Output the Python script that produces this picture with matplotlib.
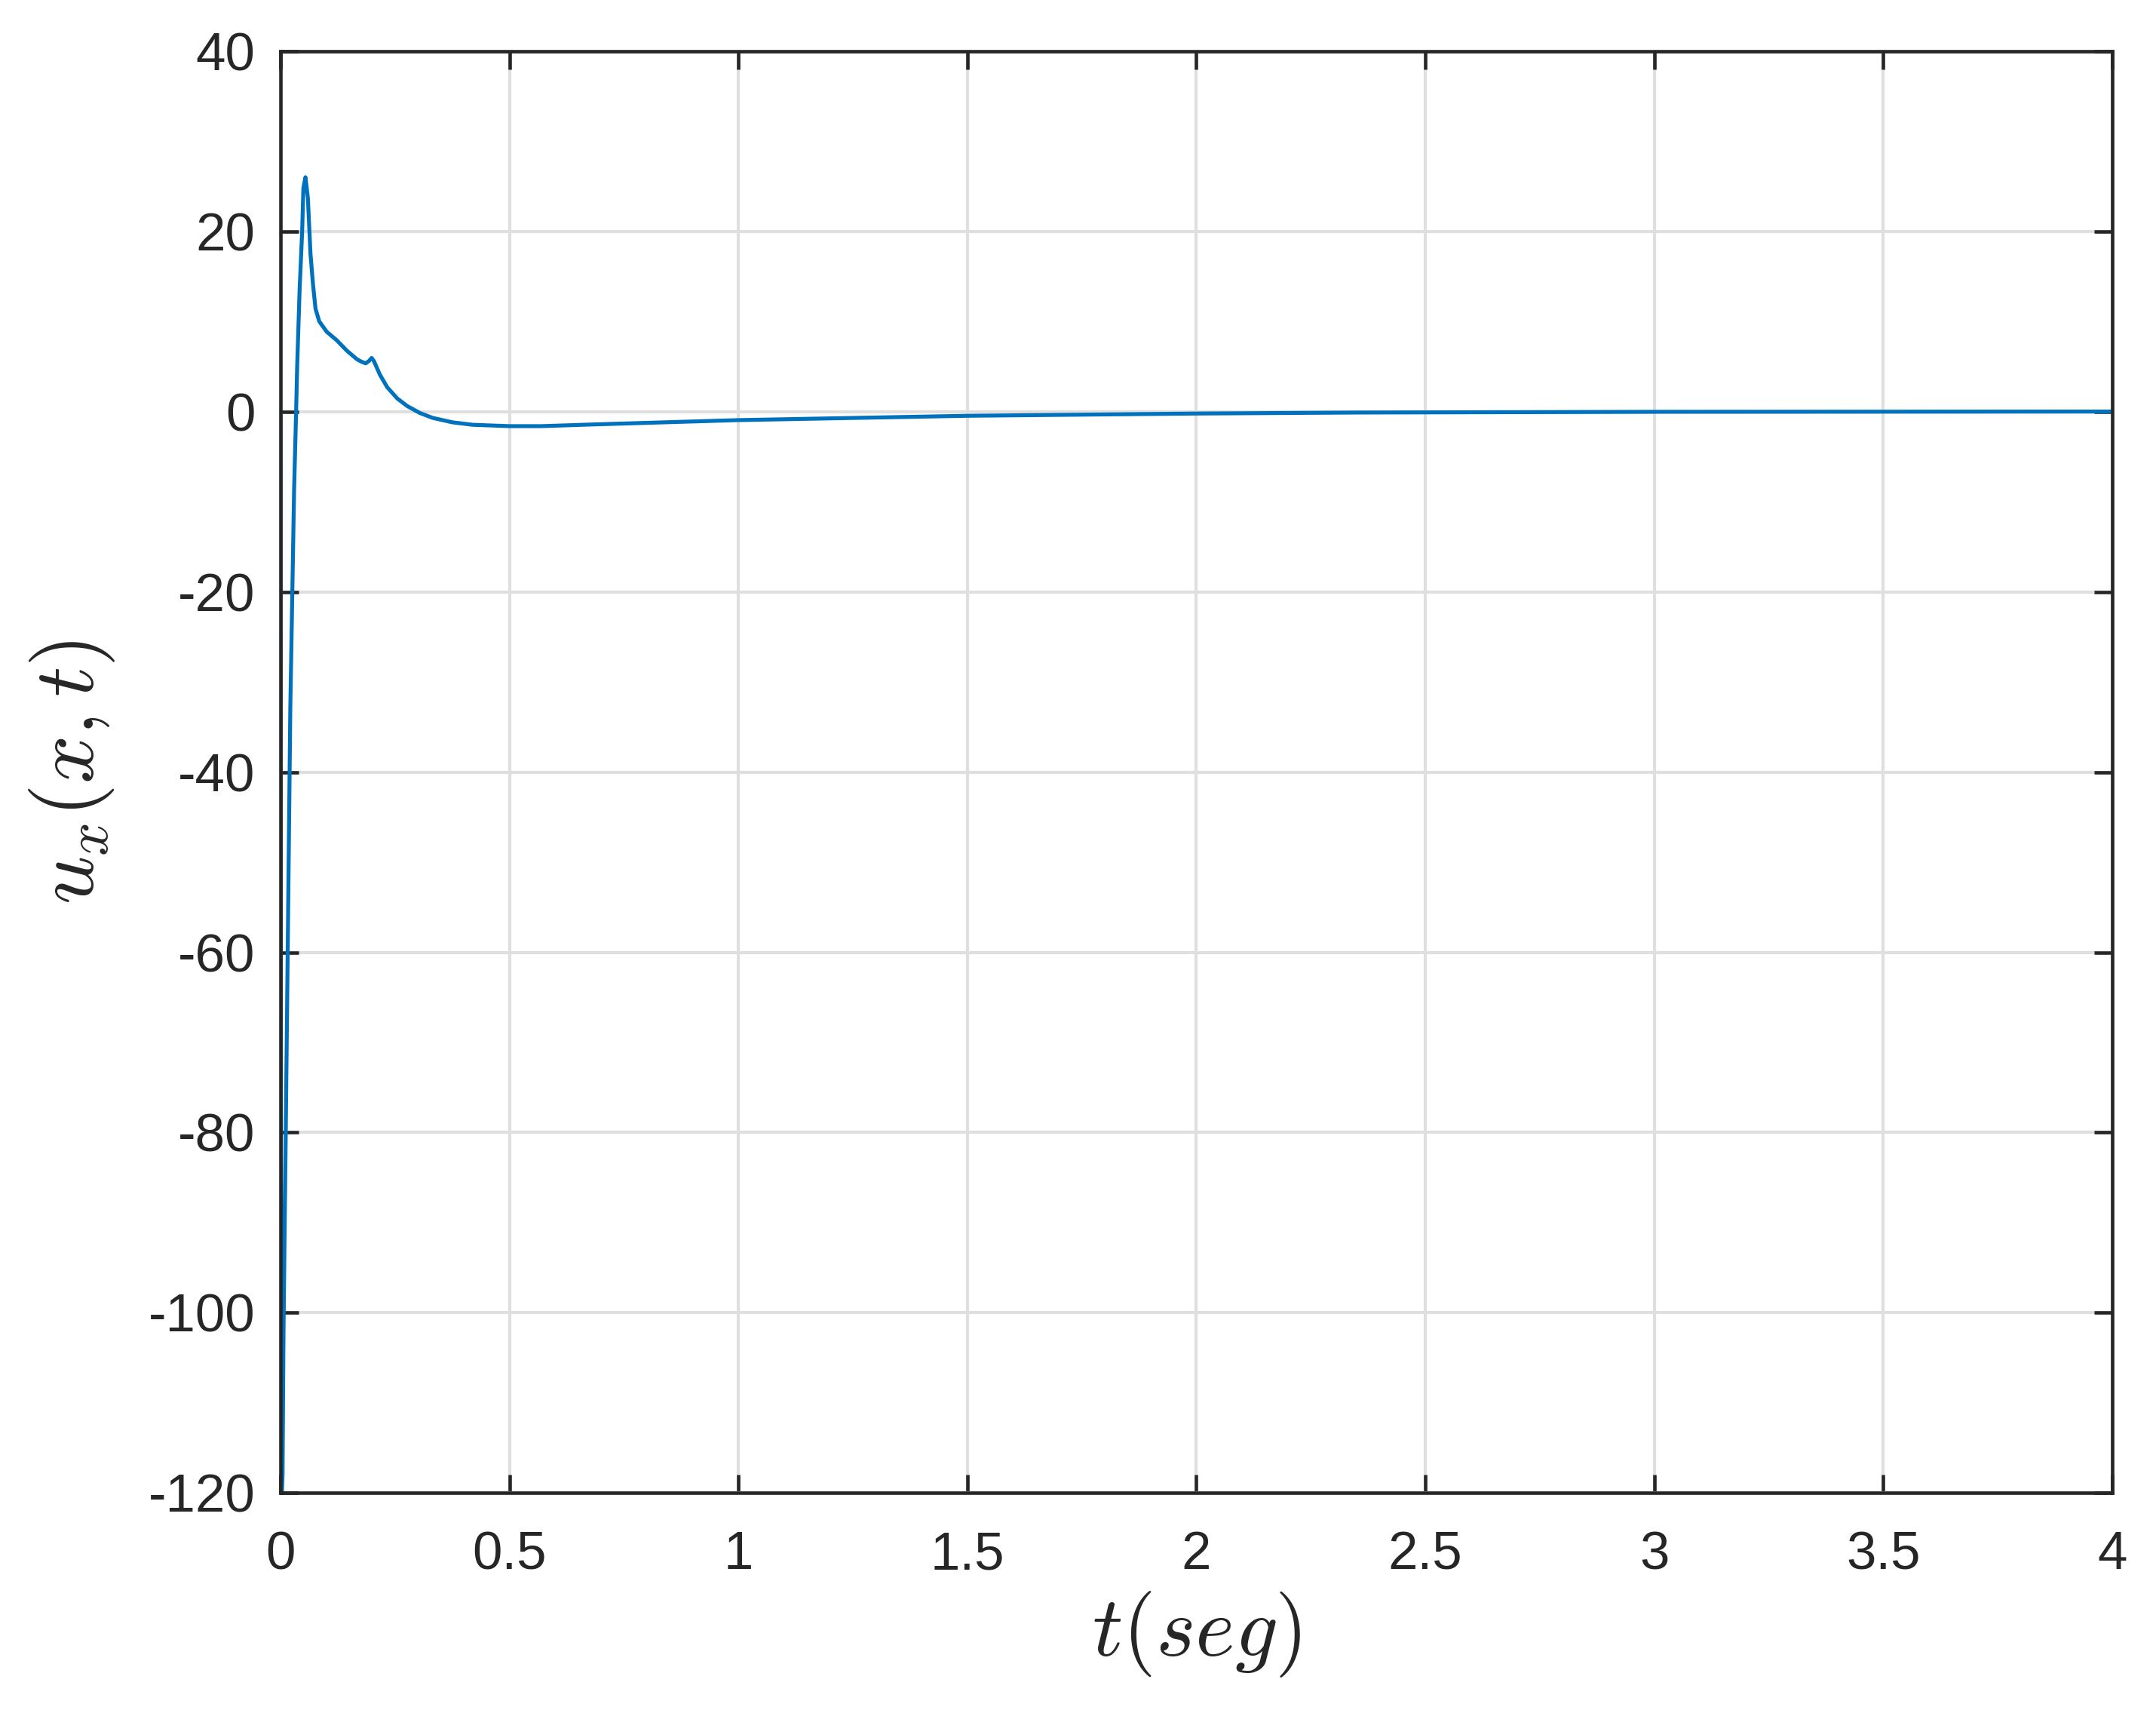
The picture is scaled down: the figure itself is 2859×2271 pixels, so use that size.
import numpy as np
import matplotlib
matplotlib.use('Agg')
import matplotlib.pyplot as plt

# values (t in seconds, u_x)
t_vals = [0.0, 0.0015, 0.0045, 0.0066, 0.0099, 0.0115, 0.0214, 0.0297, 0.0341,
          0.0365, 0.0418, 0.0473, 0.050, 0.0545, 0.0598, 0.0655, 0.071, 0.0765,
          0.0847, 0.101, 0.123, 0.145, 0.167, 0.176, 0.186, 0.193, 0.199, 0.204,
          0.217, 0.233, 0.255, 0.277, 0.304, 0.332, 0.376, 0.42, 0.5, 0.57,
          0.69, 1.0, 1.5, 2.0, 2.35, 3.0, 4.0]
u_vals = [0.0, -122.0, -118.0, -102.0, -87.0, -80.0, -33.0, -8.7, 0.0,
          5.2, 13.6, 20.0, 24.8, 26.0, 23.7, 17.5, 14.1, 11.4,
          10.0, 8.85, 7.9, 6.75, 5.8, 5.55, 5.35, 5.6, 5.95, 5.6,
          4.1, 2.7, 1.45, 0.6, -0.15, -0.7, -1.2, -1.47, -1.62, -1.62,
          -1.42, -0.95, -0.47, -0.22, -0.11, -0.03, 0.0]

x_ticks = [0, 0.5, 1, 1.5, 2, 2.5, 3, 3.5, 4]
x_ticklabels = ['0', '0.5', '1', '1.5', '2', '2.5', '3', '3.5', '4']
y_ticks = [-120, -100, -80, -60, -40, -20, 0, 20, 40]
y_ticklabels = ['-120', '-100', '-80', '-60', '-40', '-20', '0', '20', '40']

plt.rcParams['font.family'] = ['Liberation Sans', 'DejaVu Sans']
plt.rcParams['mathtext.fontset'] = 'cm'

dark = '#262626'
fig = plt.figure(figsize=(2859 / 300, 2271 / 300), dpi=300)
ax = fig.add_axes([0.1301, 0.1284, 0.8496, 0.8418])

ax.plot(t_vals, u_vals, color='#0072BD', lw=1.25, clip_on=True)

ax.set_xlim(0, 4)
ax.set_ylim(-120, 40)
ax.set_xticks(x_ticks)
ax.set_xticklabels(x_ticklabels)
ax.set_yticks(y_ticks)
ax.set_yticklabels(y_ticklabels)

ax.grid(True, color='#DFDFDF', lw=1.0)
ax.set_axisbelow(True)
for s in ax.spines.values():
    s.set_color(dark)
    s.set_linewidth(1.1)
ax.tick_params(direction='in', length=5.8, width=1.1, color=dark,
               labelcolor=dark, labelsize=17, top=True, right=True)
ax.tick_params(axis='x', pad=12)
ax.tick_params(axis='y', pad=8)

ax.set_xlabel(r'$t(seg)$', fontsize=27, color=dark, labelpad=3)
ax.set_ylabel(r'$u_x(x,t)$', fontsize=27, color=dark, labelpad=10)

fig.savefig('out.png', dpi=300, facecolor='white')
